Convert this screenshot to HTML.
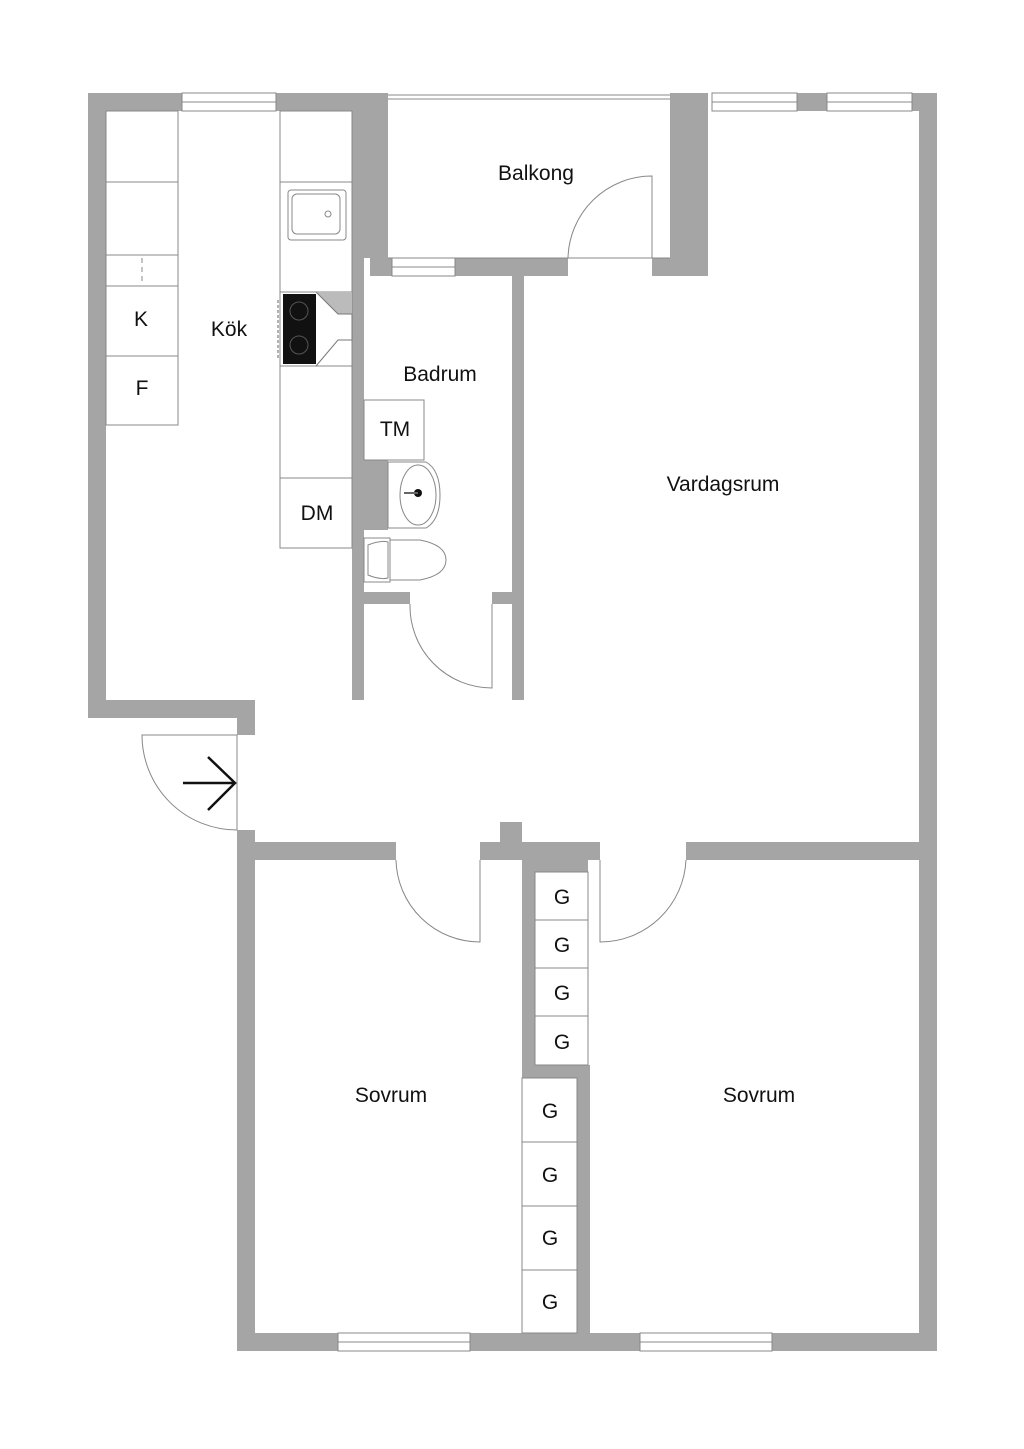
<!DOCTYPE html>
<html><head><meta charset="utf-8"><style>
html,body{margin:0;padding:0;background:#fff}
svg{display:block}
text{font-family:"Liberation Sans",sans-serif;fill:#111}
</style></head><body>
<svg width="1024" height="1449" viewBox="0 0 1024 1449" xmlns="http://www.w3.org/2000/svg">
<g fill="#a5a5a5">
<!-- outer left kitchen -->
<rect x="88" y="93" width="18" height="625"/>
<rect x="88" y="93" width="94" height="18"/>
<rect x="276" y="93" width="112" height="18"/>
<rect x="88" y="700" width="167" height="18"/>
<rect x="237" y="700" width="18" height="35"/>
<rect x="237" y="830" width="18" height="521"/>
<rect x="237" y="1333" width="101" height="18"/>
<rect x="470" y="1333" width="170" height="18"/>
<rect x="772" y="1333" width="165" height="18"/>
<rect x="919" y="93" width="18" height="1258"/>
<rect x="797" y="93" width="30" height="18"/>
<rect x="912" y="93" width="25" height="18"/>
<!-- balcony walls -->
<rect x="352" y="93" width="36" height="165"/>
<rect x="370" y="93" width="18" height="183"/>
<rect x="670" y="93" width="38" height="183"/>
<rect x="455" y="258" width="113" height="18"/>
<rect x="652" y="258" width="56" height="18"/>
<rect x="370" y="258" width="22" height="18"/>
<!-- bath walls -->
<rect x="352" y="258" width="12" height="442"/>
<rect x="364" y="460" width="24" height="70"/>
<rect x="512" y="276" width="12" height="424"/>
<rect x="364" y="592" width="46" height="12"/>
<rect x="492" y="592" width="20" height="12"/>
<!-- bedroom walls -->
<rect x="255" y="842" width="141" height="18"/>
<rect x="480" y="842" width="120" height="18"/>
<rect x="500" y="822" width="22" height="22"/>
<rect x="686" y="842" width="233" height="18"/>
<rect x="522" y="860" width="13" height="218"/>
<rect x="522" y="860" width="66" height="12"/>
<rect x="535" y="1065" width="55" height="13"/>
<rect x="577" y="1065" width="13" height="268"/>
</g>
<g fill="none" stroke="#888" stroke-width="1">
<!-- windows -->
<rect x="182" y="93" width="94" height="18"/><line x1="182" y1="102" x2="276" y2="102"/>
<rect x="712" y="93" width="85" height="18"/><line x1="712" y1="102" x2="797" y2="102"/>
<rect x="827" y="93" width="85" height="18"/><line x1="827" y1="102" x2="912" y2="102"/>
<rect x="392" y="258" width="63" height="18"/><line x1="392" y1="267" x2="455" y2="267"/>
<rect x="338" y="1333" width="132" height="18"/><line x1="338" y1="1342" x2="470" y2="1342"/>
<rect x="640" y="1333" width="132" height="18"/><line x1="640" y1="1342" x2="772" y2="1342"/>
<line x1="388" y1="95" x2="670" y2="95"/><line x1="388" y1="99" x2="670" y2="99"/>
<!-- kitchen cabinets -->
<rect x="106" y="111" width="72" height="314"/>
<line x1="106" y1="182" x2="178" y2="182"/><line x1="106" y1="255" x2="178" y2="255"/>
<line x1="106" y1="286" x2="178" y2="286"/><line x1="106" y1="356" x2="178" y2="356"/>
<line x1="142" y1="258" x2="142" y2="284" stroke-dasharray="5,4"/>
<rect x="280" y="111" width="72" height="437"/>
<line x1="280" y1="182" x2="352" y2="182"/><line x1="280" y1="292" x2="352" y2="292"/>
<line x1="280" y1="366" x2="352" y2="366"/><line x1="280" y1="478" x2="352" y2="478"/>
<rect x="288" y="190" width="58" height="50" rx="3"/><rect x="292" y="194" width="48" height="40" rx="5"/>
<circle cx="328" cy="214" r="3"/>
<!-- bath -->
<rect x="364" y="400" width="60" height="60"/>
<path d="M388 462 H426 Q440 470 440 495 Q440 520 426 528 H388 Z"/>
<ellipse cx="418" cy="495" rx="18" ry="30"/>
<path d="M364 538 H390 V582 H364 Z"/>
<path d="M390 540 H420 Q446 545 446 560 Q446 575 420 580 H390 Z"/>
<path d="M368 545 Q380 540 388 542 V578 Q380 580 368 575 Z"/>
<!-- doors -->
<path d="M237 735 V830 M237 830 A95 95 0 0 1 142 735 L237 735"/>
<path d="M480 860 V942 A84 84 0 0 1 396 860"/>
<path d="M600 860 V942 A86 86 0 0 0 686 860"/>
<path d="M652 258 V176 A84 84 0 0 0 568 258"/>
<path d="M492 604 V688 A82 82 0 0 1 410 604"/>
<line x1="388" y1="258" x2="670" y2="258"/>
<!-- closets -->
<rect x="535" y="872" width="53" height="193"/>
<line x1="535" y1="920" x2="588" y2="920"/><line x1="535" y1="968" x2="588" y2="968"/><line x1="535" y1="1016" x2="588" y2="1016"/>
<rect x="522" y="1078" width="55" height="255"/>
<line x1="522" y1="1142" x2="577" y2="1142"/><line x1="522" y1="1206" x2="577" y2="1206"/><line x1="522" y1="1270" x2="577" y2="1270"/>
</g>
<!-- stove & hood -->
<rect x="283" y="294" width="33" height="70" fill="#111"/>
<circle cx="299" cy="311" r="9" fill="none" stroke="#555"/><circle cx="299" cy="345" r="9" fill="none" stroke="#555"/>
<line x1="278" y1="300" x2="278" y2="358" stroke="#666" stroke-dasharray="3,2"/>
<path d="M316 292 H352 V314 H338 Z" fill="#bbb"/>
<path d="M316 292 L338 314 H352 V340 H338 L316 366" fill="none" stroke="#777"/>
<circle cx="418" cy="493" r="4" fill="#111"/><line x1="404" y1="493" x2="418" y2="493" stroke="#666" stroke-width="2"/>
<!-- arrow -->
<path d="M183 783 H235 M208 757 L235 783 L208 810" fill="none" stroke="#111" stroke-width="2.5"/>
<g font-size="21" text-anchor="middle">
<text x="536" y="180">Balkong</text>
<text x="229" y="336">Kök</text>
<text x="141" y="326">K</text>
<text x="142" y="395">F</text>
<text x="440" y="381">Badrum</text>
<text x="395" y="436">TM</text>
<text x="317" y="520">DM</text>
<text x="723" y="491">Vardagsrum</text>
<text x="391" y="1102">Sovrum</text>
<text x="759" y="1102">Sovrum</text>
<text x="562" y="904">G</text><text x="562" y="952">G</text><text x="562" y="1000">G</text><text x="562" y="1049">G</text>
<text x="550" y="1118">G</text><text x="550" y="1182">G</text><text x="550" y="1245">G</text><text x="550" y="1309">G</text>
</g>
</svg>
</body></html>
